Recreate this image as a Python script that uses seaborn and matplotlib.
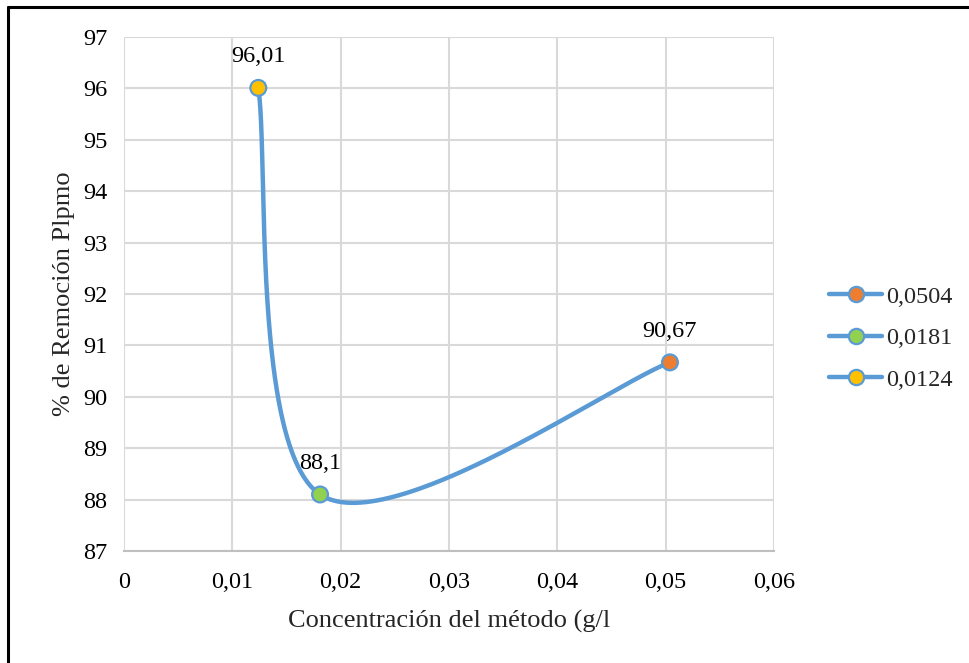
import numpy as np
import pandas as pd
import seaborn as sns
import matplotlib
matplotlib.use("Agg")
import matplotlib.pyplot as plt
from matplotlib.lines import Line2D
from matplotlib.ticker import FuncFormatter, MultipleLocator

# Data: method concentration (g/l) vs. % removal
concentracion = [0.0124, 0.0181, 0.0504]
remocion = [96.01, 88.1, 90.67]
etiquetas = ["96,01", "88,1", "90,67"]
series = ["0,0124", "0,0181", "0,0504"]
colores = ["#FFC000", "#92D050", "#ED7D31"]
orden_leyenda = ["0,0504", "0,0181", "0,0124"]

sns.set_theme(style="white")
plt.rcParams["font.family"] = ["Liberation Serif", "DejaVu Serif"]

LINE = "#5B9BD5"
GRID = "#D9D9D9"
FS = 17.5


def smooth_curve(xs, ys, n=200):
    """Cardinal (Catmull-Rom style) Bezier smoothing through the points."""
    pts = np.column_stack([xs, ys]).astype(float)
    out = []
    for i in range(len(pts) - 1):
        p0 = pts[i - 1] if i > 0 else pts[i]
        p1 = pts[i]
        p2 = pts[i + 1]
        p3 = pts[i + 2] if i + 2 < len(pts) else pts[i + 1]
        c1 = p1 + (p2 - p0) / 6.0
        c2 = p2 - (p3 - p1) / 6.0
        t = np.linspace(0, 1, n)[:, None]
        seg = ((1 - t) ** 3) * p1 + 3 * ((1 - t) ** 2) * t * c1 + 3 * (1 - t) * t ** 2 * c2 + t ** 3 * p2
        out.append(seg if i == 0 else seg[1:])
    return np.vstack(out)


df = pd.DataFrame({"x": concentracion, "y": remocion, "serie": series})

fig = plt.figure(figsize=(9.7, 6.63), dpi=100)
ax = fig.add_axes([0.1278, 0.1689, 0.6701, 0.7753])

curve = smooth_curve(concentracion, remocion)
sns.lineplot(x=curve[:, 0], y=curve[:, 1], sort=False, ax=ax, color=LINE,
             linewidth=3.2, zorder=3, estimator=None)
sns.scatterplot(data=df, x="x", y="y", hue="serie",
                palette=dict(zip(series, colores)), s=130,
                edgecolor=LINE, linewidth=1.6, ax=ax, zorder=4, legend=False)

for x, y, lab in zip(concentracion, remocion, etiquetas):
    ax.annotate(lab, (x, y), xytext=(0, 15), textcoords="offset points",
                ha="center", va="bottom", fontsize=FS, color="black")

ax.set_xlim(0, 0.06)
ax.set_ylim(87, 97)
ax.xaxis.set_major_locator(MultipleLocator(0.01))
ax.yaxis.set_major_locator(MultipleLocator(1))
ax.xaxis.set_major_formatter(FuncFormatter(lambda v, p: "0" if abs(v) < 1e-12 else f"{v:.2f}".replace(".", ",")))
ax.yaxis.set_major_formatter(FuncFormatter(lambda v, p: f"{v:.0f}"))

ax.grid(True, color=GRID, linewidth=1.5)
ax.set_axisbelow(True)
for side in ["top", "right", "left"]:
    ax.spines[side].set_visible(False)
ax.spines["bottom"].set_color("#BFBFBF")
ax.spines["bottom"].set_linewidth(1.5)
ax.tick_params(axis="both", length=0, labelsize=FS, colors="black")
ax.tick_params(axis="x", pad=15)
ax.tick_params(axis="y", pad=12)

ax.set_xlabel("Concentración del método (g/l", fontsize=19, labelpad=12)
ax.set_ylabel("% de Remoción Plpmo", fontsize=19, labelpad=6)

handles = []
for name in orden_leyenda:
    c = colores[series.index(name)]
    handles.append(Line2D([0], [0], color=LINE, linewidth=3.2, marker="o",
                          markersize=11, markerfacecolor=c, markeredgecolor=LINE,
                          markeredgewidth=1.6))
leg = fig.legend(handles, orden_leyenda, loc="center left",
                 bbox_to_anchor=(0.832, 0.49), frameon=False, fontsize=FS,
                 handlelength=2.2, handletextpad=0.15, labelspacing=0.8)

# Outer frame (left and top edges)
fig.add_artist(Line2D([0.0085, 0.0085], [0, 0.9895], transform=fig.transFigure,
                      color="black", linewidth=2.2))
fig.add_artist(Line2D([0.0085, 1.0], [0.9895, 0.9895], transform=fig.transFigure,
                      color="black", linewidth=2.2))

fig.savefig("out.png", dpi=100, facecolor="white")
